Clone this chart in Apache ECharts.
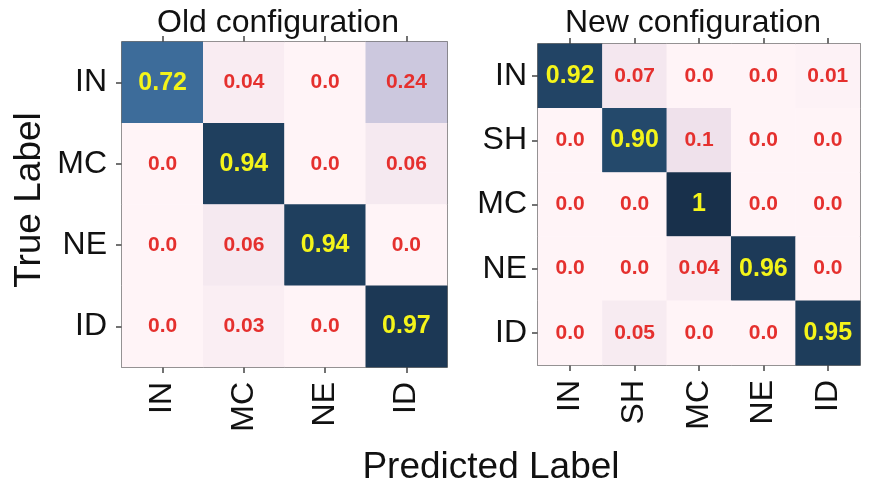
<!DOCTYPE html>
<html><head><meta charset="utf-8">
<script src="https://cdn.jsdelivr.net/npm/echarts@6/dist/echarts.min.js"></script>
<style>html,body{margin:0;padding:0;background:#fff}#c{width:870px;height:483px}</style>
</head><body><div id="c"></div>
<script>
var oldLabels = ["IN", "MC", "NE", "ID"];
var oldMatrix = [
  ["0.72", "0.04", "0.0", "0.24"],
  ["0.0", "0.94", "0.0", "0.06"],
  ["0.0", "0.06", "0.94", "0.0"],
  ["0.0", "0.03", "0.0", "0.97"]
];
var newLabels = ["IN", "SH", "MC", "NE", "ID"];
var newMatrix = [
  ["0.92", "0.07", "0.0", "0.0", "0.01"],
  ["0.0", "0.90", "0.1", "0.0", "0.0"],
  ["0.0", "0.0", "1", "0.0", "0.0"],
  ["0.0", "0.0", "0.04", "0.96", "0.0"],
  ["0.0", "0.05", "0.0", "0.0", "0.95"]
];
var titles = ["Old configuration", "New configuration"];
var xName = "Predicted Label";
var yName = "True Label";

var FONT = '"Liberation Sans", Arial, sans-serif';
function toData(m) {
  var out = [];
  for (var r = 0; r < m.length; r++) {
    for (var c = 0; c < m[r].length; c++) {
      var v = parseFloat(m[r][c]);
      out.push({
        value: [c, r, v],
        txt: m[r][c],
        label: { color: v > 0.5 ? '#f4f41a' : '#e5302e', fontSize: v > 0.5 ? 25 : 21 }
      });
    }
  }
  return out;
}
var grids = [
  { left: 122, top: 42, width: 325, height: 325 },
  { left: 538, top: 44, width: 322, height: 321 }
];
var cats = [oldLabels, newLabels];
var xAxes = [], yAxes = [], series = [];
for (var i = 0; i < 2; i++) {
  var g = grids[i];
  g.show = true; g.borderColor = '#444'; g.borderWidth = 1.5; g.backgroundColor = 'transparent';
  xAxes.push({
    type: 'category', gridIndex: i, data: cats[i], position: 'bottom',
    axisLine: { show: false },
    axisTick: { show: true, length: 6, lineStyle: { color: '#444', width: 1.5 }, alignWithLabel: true },
    axisLabel: { rotate: 90, fontSize: 32, color: '#111', fontFamily: FONT, margin: 15 },
    splitLine: { show: false }
  });
  xAxes.push({
    type: 'category', gridIndex: i, data: cats[i], position: 'top',
    axisLine: { show: false },
    axisTick: { show: true, length: 6, lineStyle: { color: '#444', width: 1.5 }, alignWithLabel: true },
    axisLabel: { show: false }, splitLine: { show: false }
  });
  yAxes.push({
    type: 'category', gridIndex: i, data: cats[i], inverse: true,
    axisLine: { show: false },
    axisTick: { show: true, length: 6, lineStyle: { color: '#444', width: 1.5 }, alignWithLabel: true },
    axisLabel: { fontSize: 32, color: '#111', fontFamily: FONT, margin: i === 0 ? 15 : 11 },
    splitLine: { show: false }
  });
  series.push({
    type: 'heatmap', xAxisIndex: i * 2, yAxisIndex: i,
    data: toData(i === 0 ? oldMatrix : newMatrix),
    itemStyle: { borderWidth: 0 },
    label: {
      show: true, fontWeight: 'bold', fontFamily: FONT,
      formatter: function (p) { return p.data.txt; }
    },
    emphasis: { disabled: true }
  });
}
var chart = echarts.init(document.getElementById('c'), null, { renderer: 'canvas' });
chart.setOption({
  animation: false,
  backgroundColor: '#fff',
  title: [
    { text: titles[0], left: 273, top: 2, textAlign: 'center', textStyle: { fontSize: 32, fontWeight: 'normal', color: '#111', fontFamily: FONT } },
    { text: titles[1], left: 688, top: 2, textAlign: 'center', textStyle: { fontSize: 32, fontWeight: 'normal', color: '#111', fontFamily: FONT } }
  ],
  grid: grids,
  xAxis: xAxes,
  yAxis: yAxes,
  visualMap: {
    show: false, type: 'continuous', min: 0, max: 1, seriesIndex: [0, 1], dimension: 2,
    inRange: { color: ['#fff4f7', '#efe1eb', '#d6d0e3', '#bcbcd6', '#a2aecb', '#86a0c2', '#6486b3', '#40709f', '#305a85', '#24496b', '#18304b'] }
  },
  graphic: [
    { type: 'text', x: 491, y: 468, style: { text: xName, fontSize: 37, fill: '#111', fontFamily: FONT, align: 'center', verticalAlign: 'middle' } },
    { type: 'text', x: 30, y: 200, rotation: Math.PI / 2, style: { text: yName, fontSize: 37, fill: '#111', fontFamily: FONT, align: 'center', verticalAlign: 'middle' } }
  ],
  series: series
});
</script></body></html>
